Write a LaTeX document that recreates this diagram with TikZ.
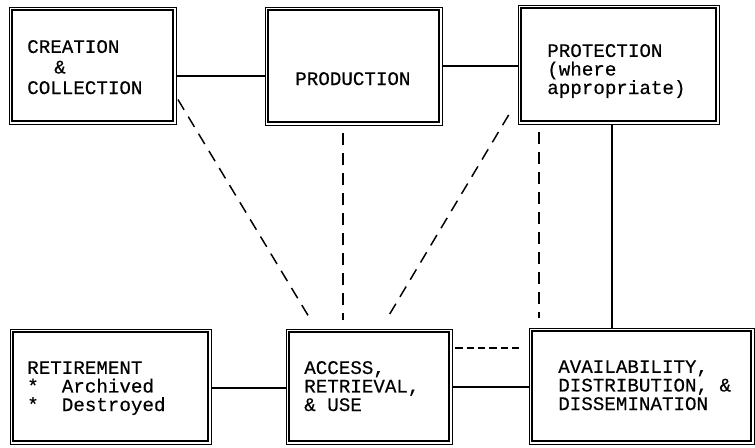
\documentclass[tikz,border=0pt]{standalone}
\usepackage{fontspec}
\newfontfamily\boxfont[FakeBold=0.4]{Liberation Mono}
\usetikzlibrary{fit}
\begin{document}
\begin{tikzpicture}[x=0.75pt,y=-0.75pt,
  stage/.style={draw, line width=0.6pt, inner sep=0pt,
    path picture={\draw[line width=1.4pt]
      ([shift={(2.3pt,-2.3pt)}]path picture bounding box.north west) rectangle
      ([shift={(-2.3pt,2.3pt)}]path picture bounding box.south east);}},
  boxtext/.style={anchor=base west, inner sep=0pt, align=left,
    font=\boxfont\fontsize{14.4}{13.9}\selectfont},
  link/.style={line width=0.9pt},
  weak/.style={line width=1.1pt, dash pattern=on 9pt off 6pt},
  weakshort/.style={line width=1.1pt, dash pattern=on 5.5pt off 3pt}]
\useasboundingbox (0,0) rectangle (755,447);

% stage boxes
\node[stage, fit={(9,7) (176,124)}] (crea) {};
\node[stage, fit={(265,7) (442,125)}] (prod) {};
\node[stage, fit={(518,5) (719,124)}] (prot) {};
\node[stage, fit={(10,329) (211,444)}] (reti) {};
\node[stage, fit={(286,329) (452,444)}] (acc) {};
\node[stage, fit={(529,328) (754,444)}] (avail) {};

% box texts (anchored on the baseline of their last line)
\node[boxtext, font=\boxfont\fontsize{14.4}{15.4}\selectfont] (tcrea) at (27,94)
  {CREATION\\\phantom{XX}\hspace{3pt}\&\\COLLECTION};
\node[boxtext] (tprod) at (295,85) {PRODUCTION};
\node[boxtext] (tprot) at (547,94) {PROTECTION\\(where\\appropriate)};
\node[boxtext] (treti) at (27,411) {RETIREMENT\\*\phantom{XX}Archived\\*\phantom{XX}Destroyed};
\node[boxtext] (tacc) at (304,411) {ACCESS,\\RETRIEVAL,\\\& USE};
\node[boxtext] (tavail) at (558,410) {AVAILABILITY,\\DISTRIBUTION, \&\\DISSEMINATION};

% solid links
\draw[link] (crea.east |- 0,76) -- (prod.west |- 0,76);
\draw[link] (prod.east |- 0,66) -- (prot.west |- 0,66);
\draw[link] (reti.east |- 0,388) -- (acc.west |- 0,388);
\draw[link] (acc.east |- 0,387) -- (avail.west |- 0,387);
\draw[link] (prot.south -| 612,0) -- (avail.north -| 612,0);

% dashed links
\draw[weak, shorten <=2.2pt, shorten >=6.8pt] (crea.east |- 0,97) -- (acc.north -| 316,0);
\draw[weak, shorten <=6pt, shorten >=6.8pt] (prod.south -| 343,0) -- (acc.north -| 343,0);
\draw[weak, shorten <=13pt, shorten >=7.8pt] (prot.west |- 0,100) -- (acc.north -| 381,0);
\draw[weak, shorten <=6pt, shorten >=7.5pt] (prot.south -| 539,0) -- (avail.north -| 539,0);
\draw[weakshort, shorten <=2.2pt, shorten >=6.8pt] (acc.east |- 0,348) -- (avail.west |- 0,348);
\end{tikzpicture}
\end{document}
